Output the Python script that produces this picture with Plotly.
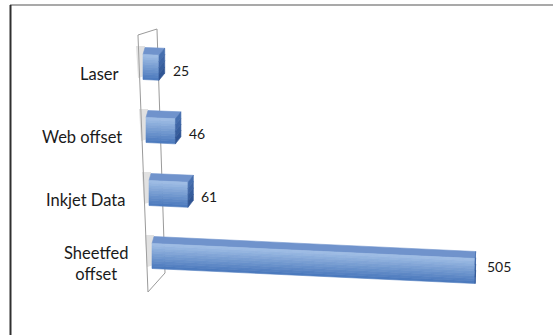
import plotly.graph_objects as go

# ---- data -------------------------------------------------------------
categories = ["Sheetfed<br>offset", "Inkjet Data", "Web offset", "Laser"]
values = [505, 61, 46, 25]
value_labels = ["505", "61", "46", "25"]

# ---- canvas / projection ---------------------------------------------
W, H = 553, 335
X0, KX = 150.0, 0.64      # pixel position of zero and pixels per unit
Y0, ROW = 256.0, 63.0     # pixel row of the first category and row pitch
HALF = 12.5               # half height of a bar's front face (px)
DEPTH_Y = 7.0             # vertical depth of the bar (px)
SLOPE = 0.0297            # perspective drop per unit of value (px)


def u(px, py):
    """pixel position -> (value units, row units) on the axes"""
    return (px - X0) / KX, (Y0 - py) / ROW


def poly(points, color, opacity=1.0, lw=0.6):
    xs, ys = zip(*[u(px, py) for px, py in points])
    xs = list(xs) + [xs[0]]
    ys = list(ys) + [ys[0]]
    return go.Scatter(x=xs, y=ys, mode="lines", fill="toself",
                      fillcolor=color, opacity=opacity,
                      line=dict(color=color, width=lw),
                      hoverinfo="skip", showlegend=False)


def mix(c1, c2, t):
    a = [int(c1[i:i + 2], 16) for i in (1, 3, 5)]
    b = [int(c2[i:i + 2], 16) for i in (1, 3, 5)]
    return "rgb(%d,%d,%d)" % tuple(round(a[k] + (b[k] - a[k]) * t) for k in range(3))


FRONT_TOP, FRONT_BOT = "#A3C0E6", "#4877BC"
TOP_FACE = "#7093CC"
SIDE_TOP, SIDE_BOT = "#4A73B3", "#2C5190"

fig = go.Figure()
annotations = []
N = 10

for r, (cat, v, lab) in enumerate(zip(categories, values, value_labels)):
    left = 152 - 3 * r
    right = left + v * KX
    cyl = Y0 - r * ROW
    cyr = cyl + v * SLOPE
    dxr = max(6 - v * 0.011, 0.4)

    # soft shadow on the back wall
    fig.add_trace(poly([(left - 7, cyl - 21), (left + 2, cyl - 21),
                        (left + 2, cyl + 9), (left - 5, cyl + 11)],
                       "rgb(170,170,170)", opacity=0.35, lw=0))

    # top face
    fig.add_trace(poly([(left, cyl - HALF), (right, cyr - HALF),
                        (right + dxr, cyr - HALF - DEPTH_Y),
                        (left + 2, cyl - HALF - DEPTH_Y)], TOP_FACE))
    # front face drawn as graded strips
    for k in range(N):
        t0, t1 = k / N, (k + 1) / N
        col = mix(FRONT_TOP, FRONT_BOT, (k + 0.5) / N)
        o0, o1 = -HALF + 2 * HALF * t0, -HALF + 2 * HALF * t1
        fig.add_trace(poly([(left, cyl + o0), (right, cyr + o0),
                            (right, cyr + o1), (left, cyl + o1)], col))
    # right end face
    for k in range(4):
        t0, t1 = k / 4, (k + 1) / 4
        col = mix(SIDE_TOP, SIDE_BOT, (k + 0.5) / 4)
        a0 = -HALF + 2 * HALF * t0
        a1 = -HALF + 2 * HALF * t1
        fig.add_trace(poly([(right, cyr + a0), (right + dxr, cyr + a0 - DEPTH_Y),
                            (right + dxr, cyr + a1 - DEPTH_Y), (right, cyr + a1)], col))

    # value label
    lx, ly = u(right + dxr + 6 + (3 if v > 100 else 0), cyr + 3 - v * 0.015)
    annotations.append(dict(x=lx, y=ly, xref="x", yref="y", text=lab,
                            showarrow=False, xanchor="left", yanchor="middle",
                            font=dict(family="Lato", size=14, color="#1a1a1a")))
    # category label
    cx, cy = u(130 - 3 * r, cyl + 7)
    annotations.append(dict(x=cx, y=cy, xref="x", yref="y", text=cat,
                            showarrow=False, xanchor="right", yanchor="middle",
                            align="center",
                            font=dict(family="Lato", size=16.5, color="#1a1a1a")))


def pp(px, py):
    return px / W, 1 - py / H


# thin back wall behind the bars
wall = [(138, 35), (157, 29), (165, 273), (148, 292)]
path = "M " + " L ".join("%.4f,%.4f" % pp(*p) for p in wall) + " Z"
shapes = [
    dict(type="path", xref="paper", yref="paper", path=path,
         line=dict(color="#9a9a9a", width=1), fillcolor="rgba(255,255,255,0)",
         layer="below"),
    # chart frame
    dict(type="line", xref="paper", yref="paper",
         x0=pp(10, 5)[0], y0=pp(10, 5)[1], x1=1, y1=pp(553, 5)[1],
         line=dict(color="#8c8c8c", width=1.5)),
    dict(type="line", xref="paper", yref="paper",
         x0=pp(10.5, 5)[0], y0=pp(10.5, 5)[1], x1=pp(10.5, 335)[0], y1=0,
         line=dict(color="#303030", width=2)),
]

xr = [u(0, 0)[0], u(W, 0)[0]]
yr = [u(0, H)[1], u(0, 0)[1]]

fig.update_layout(
    width=W, height=H,
    margin=dict(l=0, r=0, t=0, b=0),
    paper_bgcolor="white", plot_bgcolor="white",
    xaxis=dict(range=xr, visible=False, fixedrange=True),
    yaxis=dict(range=yr, visible=False, fixedrange=True),
    shapes=shapes,
    annotations=annotations,
    showlegend=False,
)

fig.write_html("out.html", config={"displayModeBar": False})
